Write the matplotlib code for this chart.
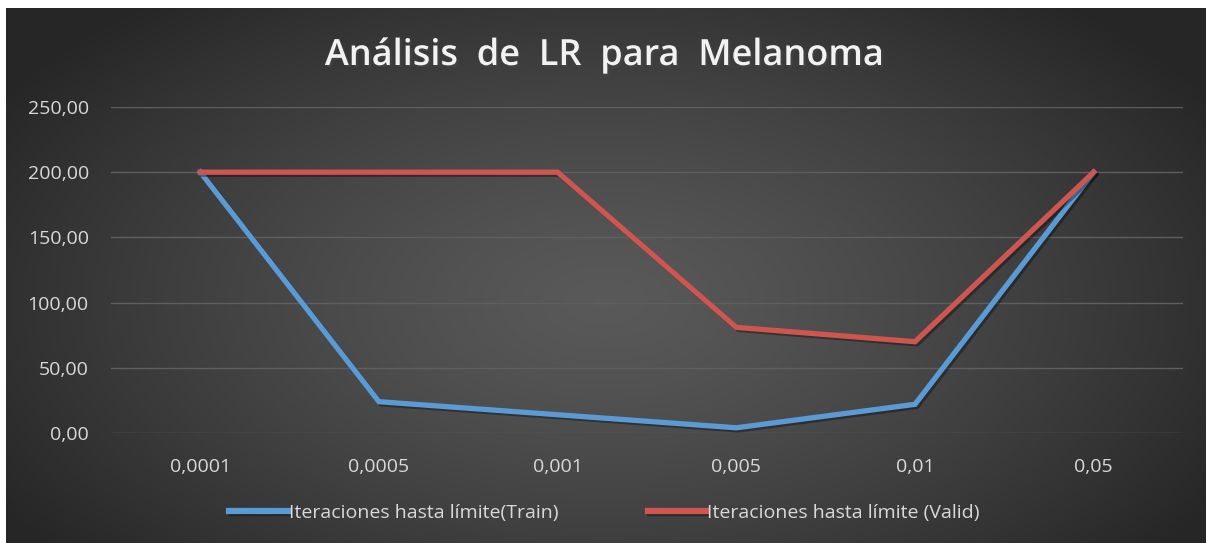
import numpy as np
import matplotlib.pyplot as plt
import matplotlib.patheffects as pe

lr_labels = ['0,0001', '0,0005', '0,001', '0,005', '0,01', '0,05']
train_iters = [200, 24, 14, 4, 22, 200]
valid_iters = [200, 200, 200, 81, 70, 200]
y_ticks = [0, 50, 100, 150, 200, 250]

plt.rcParams['font.family'] = ['Open Sans', 'DejaVu Sans']

fig = plt.figure(figsize=(12.09, 5.43), dpi=100, facecolor='white')

# fondo con degradado radial
bg = fig.add_axes([6 / 1209, 0, 1200 / 1209, 535 / 543])
yy, xx = np.mgrid[1:-1:300j, -1:1:600j]
r = np.sqrt((xx / 1.05) ** 2 + ((yy + 0.1) / 1.3) ** 2)
shade = np.clip(0.35 - 0.17 * r ** 1.3, 0.15, 0.35)
bg.imshow(np.dstack([shade] * 3), aspect='auto', extent=[0, 1, 0, 1], interpolation='bicubic')
bg.set_axis_off()

ax = fig.add_axes([111 / 1209, 1 - 433 / 543, (1183 - 111) / 1209, (433 - 107) / 543])
ax.patch.set_alpha(0)
x = np.arange(len(lr_labels))

shadow = [pe.SimpleLineShadow(offset=(1.5, -1.5), shadow_color='black', alpha=0.35), pe.Normal()]
ax.plot(x, train_iters, color='#5b9bd5', lw=3.8, solid_joinstyle='miter',
        label='Iteraciones hasta límite(Train)', path_effects=shadow, zorder=3)
ax.plot(x, valid_iters, color='#cf5550', lw=3.8, solid_joinstyle='miter',
        label='Iteraciones hasta límite (Valid)', path_effects=shadow, zorder=3)

ax.set_xlim(-0.5, len(lr_labels) - 0.5)
ax.set_ylim(0, 250)
ax.set_yticks(y_ticks)
ax.set_yticklabels([f'{v:.2f}'.replace('.', ',') for v in y_ticks])
ax.set_xticks(x)
ax.set_xticklabels(lr_labels)
ax.grid(axis='y', color='#5f5f5f', lw=1)
ax.set_axisbelow(True)
for s in ax.spines.values():
    s.set_visible(False)
ax.tick_params(length=0, colors='#d9d9d9', labelsize=14)
ax.tick_params(axis='y', pad=16)
ax.tick_params(axis='x', pad=18)

fig.text(0.5, 1 - 56 / 543, 'Análisis  de  LR  para  Melanoma', ha='center', va='center',
         color='#f2f2f2', fontsize=26, fontweight='semibold',
         path_effects=[pe.withSimplePatchShadow(offset=(1.5, -1.5), alpha=0.5)])

leg = fig.legend(loc='center', bbox_to_anchor=(0.5, 1 - 513 / 543), ncol=2, frameon=False,
                 handlelength=3.0, handletextpad=0.05, columnspacing=4.6, fontsize=14)
for line in leg.get_lines():
    line.set_linewidth(4.5)
for t in leg.get_texts():
    t.set_color('#d9d9d9')

fig.savefig('out.png', dpi=100, facecolor='white')
